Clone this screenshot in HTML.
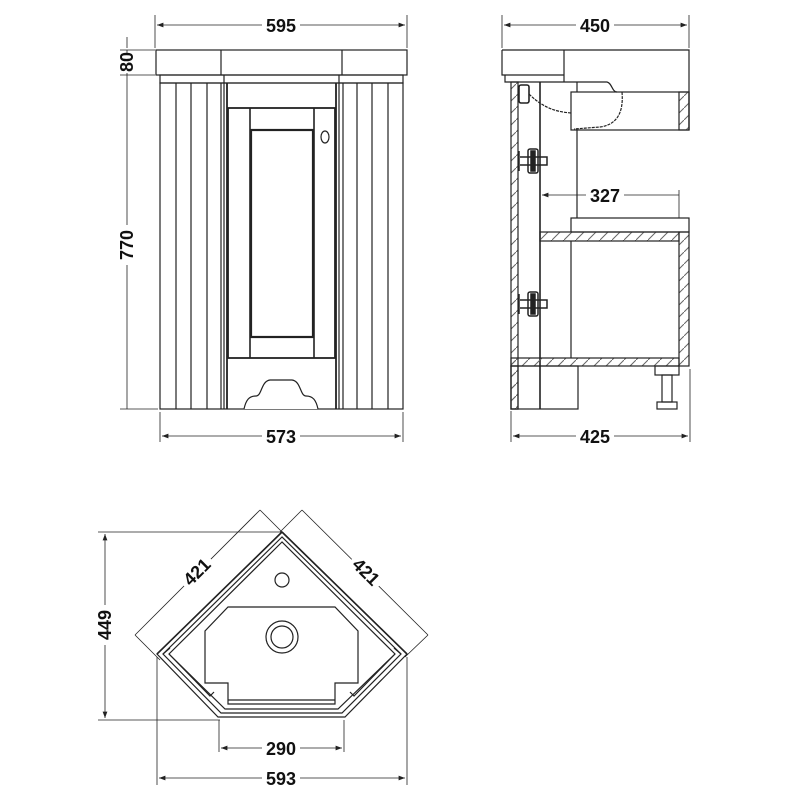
<!DOCTYPE html>
<html><head><meta charset="utf-8"><style>
html,body{margin:0;padding:0;background:#fff}
svg{display:block}
text{font-family:"Liberation Sans",sans-serif;font-weight:bold;font-size:18px;fill:#111}
</style></head><body>
<svg width="800" height="800" viewBox="0 0 800 800" xmlns="http://www.w3.org/2000/svg">
<defs>
<pattern id="h" width="12" height="12" patternUnits="userSpaceOnUse">
<line x1="0" y1="12" x2="12" y2="0" stroke="#666" stroke-width="1"/>
</pattern>
<marker id="a" markerWidth="8" markerHeight="6" refX="8" refY="3" orient="auto-start-reverse"><path d="M0,0 L8,3 L0,6 z" fill="#222"/></marker>
</defs>
<g fill="none" stroke="#222" stroke-width="1.2">
<!-- FRONT VIEW -->
<line x1="155" y1="15" x2="155" y2="48" stroke-width="0.8"/>
<line x1="407" y1="15" x2="407" y2="48" stroke-width="0.8"/>
<line x1="157" y1="25" x2="405" y2="25" stroke-width="0.8" marker-start="url(#a)" marker-end="url(#a)"/>
<rect x="156" y="50" width="251" height="25"/>
<line x1="221" y1="50" x2="221" y2="75"/><line x1="342" y1="50" x2="342" y2="75"/>
<rect x="160" y="75" width="243" height="8"/>
<line x1="224" y1="75" x2="224" y2="83"/><line x1="339" y1="75" x2="339" y2="83"/>
<rect x="160" y="83" width="243" height="326"/>
<line x1="176" y1="83" x2="176" y2="409"/><line x1="191" y1="83" x2="191" y2="409"/>
<line x1="207" y1="83" x2="207" y2="409"/><line x1="221" y1="83" x2="221" y2="409"/>
<line x1="224" y1="83" x2="224" y2="409"/><line x1="227" y1="83" x2="227" y2="409" stroke-width="1.8"/>
<line x1="336" y1="83" x2="336" y2="409" stroke-width="1.8"/><line x1="339" y1="83" x2="339" y2="409"/>
<line x1="343" y1="83" x2="343" y2="409"/><line x1="357" y1="83" x2="357" y2="409"/>
<line x1="372" y1="83" x2="372" y2="409"/><line x1="388" y1="83" x2="388" y2="409"/>
<rect x="228" y="108" width="107" height="250" stroke-width="1.8"/>
<line x1="250" y1="108" x2="250" y2="358" stroke-width="1.6"/>
<line x1="314" y1="108" x2="314" y2="358" stroke-width="1.6"/>
<rect x="251" y="130" width="62" height="207" stroke-width="2.2"/>
<ellipse cx="325" cy="137" rx="4" ry="6"/>
<path d="M244,409 C246,400 249,396 256,396 C262,396 261,381 270,380 L292,380 C301,381 300,396 306,396 C313,396 316,400 318,409" fill="#fff"/>
<line x1="127" y1="37" x2="127" y2="48" stroke-width="0.8"/>
<line x1="127" y1="50" x2="127" y2="409" stroke-width="0.8"/>
<line x1="120" y1="50" x2="155" y2="50" stroke-width="0.8"/>
<line x1="120" y1="75" x2="155" y2="75" stroke-width="0.8"/>
<line x1="120" y1="409" x2="158" y2="409" stroke-width="0.8"/>
<line x1="160" y1="412" x2="160" y2="442" stroke-width="0.8"/>
<line x1="403" y1="412" x2="403" y2="442" stroke-width="0.8"/>
<line x1="162" y1="436" x2="401" y2="436" stroke-width="0.8" marker-start="url(#a)" marker-end="url(#a)"/>
<!-- SIDE VIEW -->
<line x1="502" y1="15" x2="502" y2="48" stroke-width="0.8"/>
<line x1="689" y1="15" x2="689" y2="48" stroke-width="0.8"/>
<line x1="504" y1="25" x2="687" y2="25" stroke-width="0.8" marker-start="url(#a)" marker-end="url(#a)"/>
<path d="M502,50 L689,50 L689,130"/>
<path d="M502,50 L502,75 L564,75 M564,50 L564,82"/>
<path d="M505,75 L505,82 L564,82 L607,82 C612,83 612,92 617,92"/>
<rect x="571" y="92" width="118" height="38"/>
<rect x="679" y="92" width="10" height="38" fill="url(#h)"/>
<path d="M622,92 C624,115 615,125 600,127 L574,129" stroke-dasharray="3,1"/>
<path d="M529,94 C545,110 560,112 571,113" stroke-dasharray="3,1"/>
<rect x="511" y="82" width="7" height="327" fill="url(#h)"/>
<line x1="540" y1="82" x2="540" y2="409" stroke-width="1.6"/>
<line x1="577" y1="82" x2="577" y2="92"/><line x1="577" y1="130" x2="577" y2="218"/>
<rect x="519" y="85" width="10" height="18" rx="2" stroke-width="1.6"/>
<g stroke-width="1.5">
<path d="M519,151 L519,171 M520,157 L547,157 L547,165 L520,165"/>
<rect x="528" y="149" width="10" height="24" rx="2"/>
<rect x="531" y="151" width="4" height="20" fill="#222"/>
<path d="M519,294 L519,314 M520,300 L547,300 L547,308 L520,308"/>
<rect x="528" y="292" width="10" height="24" rx="2"/>
<rect x="531" y="294" width="4" height="20" fill="#222"/>
</g>
<line x1="542" y1="195" x2="679" y2="195" stroke-width="0.8" marker-start="url(#a)"/>
<line x1="679" y1="190" x2="679" y2="218" stroke-width="0.8"/>
<rect x="571" y="218" width="118" height="14"/>
<rect x="540" y="232" width="139" height="9" fill="url(#h)"/>
<line x1="571" y1="241" x2="571" y2="358"/>
<rect x="679" y="232" width="10" height="134" fill="url(#h)"/>
<rect x="511" y="358" width="168" height="8" fill="url(#h)"/>
<rect x="511" y="366" width="67" height="43"/>
<rect x="511" y="366" width="7" height="43" fill="url(#h)"/>
<rect x="655" y="366" width="24" height="9"/>
<rect x="662" y="375" width="10" height="27"/>
<rect x="657" y="402" width="20" height="7"/>
<line x1="511" y1="411" x2="511" y2="442" stroke-width="0.8"/>
<line x1="690" y1="369" x2="690" y2="442" stroke-width="0.8"/>
<line x1="513" y1="436" x2="688" y2="436" stroke-width="0.8" marker-start="url(#a)" marker-end="url(#a)"/>
<!-- TOP VIEW -->
<polygon points="282,532 157,654 218,717 345,717 407,654"/>
<polygon points="282,537 163,654 221,713 342,713 401,654"/>
<polygon points="282,542 169,654 225,709 338,709 395,654"/>
<line x1="282" y1="532" x2="157" y2="654" stroke-width="1.6"/>
<line x1="282" y1="532" x2="407" y2="654" stroke-width="1.6"/>
<path d="M163,654 L170,648 M401,654 L394,648"/>
<path d="M169,654 L210,696 L214,692 M395,654 L354,696 L350,692"/>
<polygon points="228,607 335,607 358,631 358,683 335,683 335,704 228,704 228,683 205,683 205,631"/>
<line x1="228" y1="700" x2="335" y2="700"/>
<circle cx="282" cy="580" r="7"/>
<circle cx="282" cy="637" r="16"/><circle cx="282" cy="637" r="11"/>
<line x1="135" y1="635" x2="260" y2="510" stroke-width="0.8"/>
<line x1="260" y1="510" x2="284" y2="534" stroke-width="0.8"/>
<line x1="135" y1="635" x2="160" y2="660" stroke-width="0.8"/>
<line x1="302" y1="510" x2="428" y2="635" stroke-width="0.8"/>
<line x1="302" y1="510" x2="280" y2="532" stroke-width="0.8"/>
<line x1="428" y1="635" x2="405" y2="657" stroke-width="0.8"/>
<line x1="98" y1="532" x2="282" y2="532" stroke-width="0.8"/>
<line x1="98" y1="720" x2="220" y2="720" stroke-width="0.8"/>
<line x1="105" y1="534" x2="105" y2="718" stroke-width="0.8" marker-start="url(#a)" marker-end="url(#a)"/>
<line x1="157" y1="657" x2="157" y2="785" stroke-width="0.8"/>
<line x1="407" y1="657" x2="407" y2="785" stroke-width="0.8"/>
<line x1="219" y1="720" x2="219" y2="752" stroke-width="0.8"/>
<line x1="344" y1="720" x2="344" y2="752" stroke-width="0.8"/>
<line x1="221" y1="748" x2="342" y2="748" stroke-width="0.8" marker-start="url(#a)" marker-end="url(#a)"/>
<line x1="159" y1="778" x2="405" y2="778" stroke-width="0.8" marker-start="url(#a)" marker-end="url(#a)"/>
</g>
<g>
<rect x="262" y="16" width="38" height="18" fill="#fff"/><text x="281" y="32" text-anchor="middle">595</text>
<rect x="262" y="427" width="38" height="18" fill="#fff"/><text x="281" y="443" text-anchor="middle">573</text>
<rect x="118" y="53" width="18" height="20" fill="#fff"/><text transform="translate(133,62) rotate(-90)" text-anchor="middle">80</text>
<rect x="118" y="225" width="18" height="40" fill="#fff"/><text transform="translate(133,245) rotate(-90)" text-anchor="middle">770</text>
<rect x="576" y="16" width="38" height="18" fill="#fff"/><text x="595" y="32" text-anchor="middle">450</text>
<rect x="586" y="186" width="38" height="18" fill="#fff"/><text x="605" y="202" text-anchor="middle">327</text>
<rect x="576" y="427" width="38" height="18" fill="#fff"/><text x="595" y="443" text-anchor="middle">425</text>
<rect x="96" y="605" width="18" height="40" fill="#fff"/><text transform="translate(111,625) rotate(-90)" text-anchor="middle">449</text>
<rect x="262" y="739" width="38" height="18" fill="#fff"/><text x="281" y="755" text-anchor="middle">290</text>
<rect x="262" y="769" width="38" height="18" fill="#fff"/><text x="281" y="785" text-anchor="middle">593</text>
<g transform="translate(197,572) rotate(-45)"><rect x="-19" y="-10" width="38" height="18" fill="#fff"/><text x="0" y="6" text-anchor="middle">421</text></g>
<g transform="translate(366,572) rotate(45)"><rect x="-19" y="-10" width="38" height="18" fill="#fff"/><text x="0" y="6" text-anchor="middle">421</text></g>
</g>
</svg>
</body></html>
